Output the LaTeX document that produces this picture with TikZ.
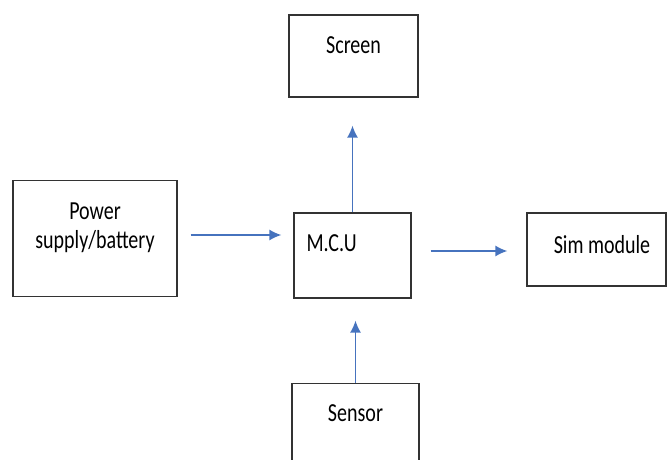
\documentclass[tikz,border=0pt]{standalone}
\usepackage{fontspec}
\setmainfont{Carlito}[FakeStretch=0.77]
\usetikzlibrary{positioning}
\usetikzlibrary{arrows.meta}
\usetikzlibrary{calc}
\definecolor{flowblue}{RGB}{70,115,190}
\tikzset{
block/.style={rectangle, draw=black!80, line width=1.3pt, fill=white},
flow/.style={-{Latex[length=12pt, width=11pt]}, draw=flowblue, line width=1.4pt},
every node/.style={font=\fontsize{26}{29}\selectfont}
}

\begin{document}
\begin{tikzpicture}[x=1pt, y=-1pt]
    \useasboundingbox (0,0) rectangle (668,459);
    \node[block, minimum width=129pt, minimum height=82pt, label={[yshift=11pt]center:Screen}] (screen) at (353.5,56) {};
    \node[block, minimum width=164pt, minimum height=116pt, label={[yshift=11pt, align=center]center:Power\\supply/battery}] (power) at (95,238.5) {};
    \node[block, minimum width=117pt, minimum height=85pt] (mcu) at (352.5,255.5) {};
    \node[anchor=west, inner sep=0pt] (mcu_text) at ($(mcu.west)+(13,-12.5)$) {M.C.U};
    \node[block, minimum width=139pt, minimum height=73pt, label={[xshift=5.5pt, yshift=4.5pt]center:Sim module}] (sim) at (596.5,249.5) {};
    \node[block, anchor=north, minimum width=127pt, minimum height=95pt, label={[anchor=center, yshift=-30pt]north:Sensor}] (sensor) at (355.5,383) {};
    \draw[flow, shorten <=13pt, shorten >=12pt] ($(power.east)+(0,-3.5)$) -- ($(mcu.west)+(0,-20.5)$);
    \draw[flow, shorten <=19pt, shorten >=19pt] ($(mcu.east)+(0,-4.5)$) -- ($(sim.west)+(0,1.5)$);
    \draw[flow, shorten >=28pt] (mcu.north) -- (mcu.north |- screen.south);
    \draw[flow, shorten >=22pt] (sensor.north) -- (sensor.north |- mcu.south);
\end{tikzpicture}
\end{document}
